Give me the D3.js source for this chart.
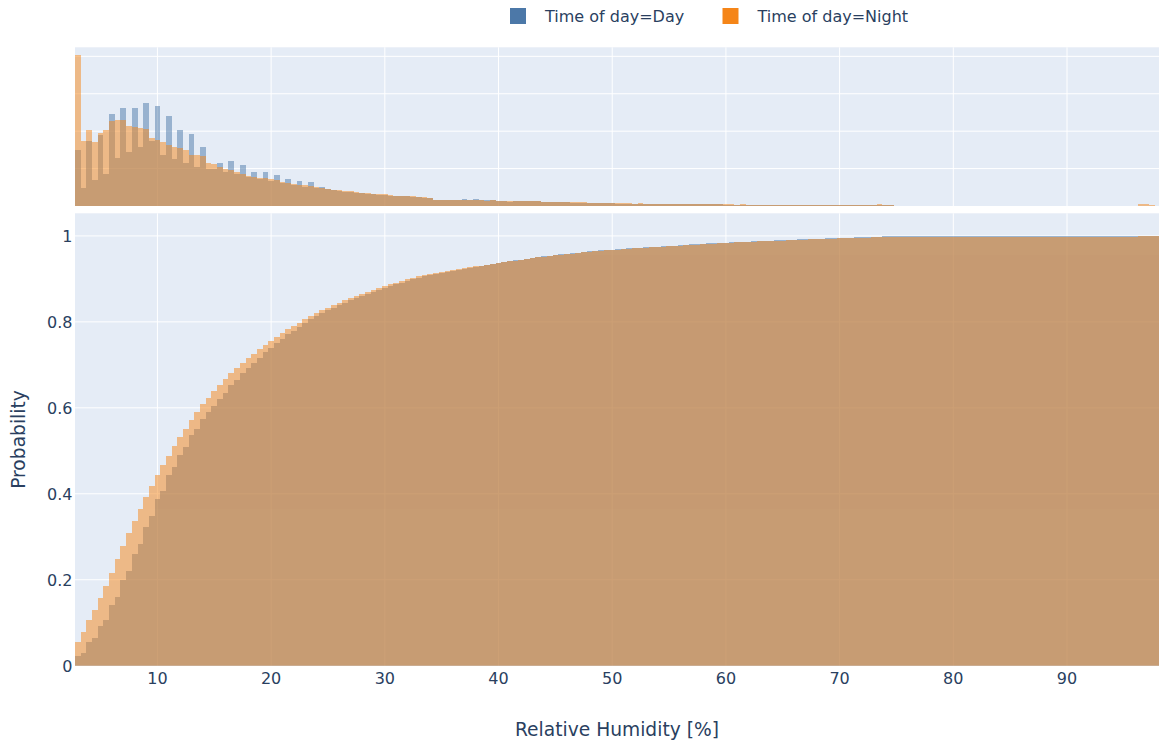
<!DOCTYPE html>
<html>
<head>
<meta charset="utf-8">
<script src="https://cdn.jsdelivr.net/npm/d3@7"></script>
<style>
  body { margin: 0; background: #ffffff; }
  svg { display: block; }
  text { font-family: "DejaVu Sans", Verdana, sans-serif; fill: #2a3f5f; }
</style>
</head>
<body>
<svg id="chart" width="1159" height="745"></svg>
<script>
// Histogram bins: 0.5 % wide, first bin starts at 2.75 %
const binStart = 2.75;
const binWidth = 0.5;

// Observation counts per bin, daytime readings
const dayCounts = [
  150, 48, 175, 70, 190, 86, 246, 127, 263, 145, 261, 157, 275, 175, 267, 135, 240, 125, 203, 115,
  193, 105, 157, 100, 98, 115, 92, 119, 85, 110, 78, 90, 72, 91, 68, 82, 62, 72, 55, 68,
  52, 64, 47, 50,
  45, 42, 41, 38, 38, 35, 35, 33, 32, 30, 30, 28, 27, 27, 26, 25, 24, 22, 21,
  17, 16, 16, 15, 17, 18, 17, 18, 16, 15, 17, 13, 13, 12, 13, 14, 14, 14, 13, 12, 10,
  10, 10, 10, 9, 9, 9, 8, 8, 8, 7, 7, 6,
  6, 6, 6, 6, 6, 5,
  5, 5, 6, 6, 6, 6, 6, 5,
  5, 5, 5, 5, 4, 4,
  4, 4, 4, 4, 4, 4, 4, 3, 4, 4, 3, 4, 3, 4, 3, 3, 4, 3, 3, 3, 3, 3, 3, 3,
  4, 3, 3, 2, 1, 0,
  1, 0, 1, 1, 0, 1, 1,
  0, 0, 0, 0, 0, 0, 0, 0, 0, 0, 0, 0, 0, 0, 0, 0, 0, 0, 0, 0,
  0, 0, 0, 0, 0, 0, 0, 0, 0, 0, 0, 0, 0, 0, 0, 0, 0, 0
];

// Observation counts per bin, night-time readings
const nightCounts = [
  403, 175, 204, 171, 195, 203, 226, 230, 230, 215, 210, 208, 205, 181, 177, 172, 162, 159, 155, 150,
  137, 137, 134, 115, 112, 105, 100, 95, 90, 86, 80, 77, 75, 74, 72, 70, 65, 62, 58, 56,
  55, 54, 50, 48,
  46, 44, 42, 40, 39, 37, 36, 35, 33, 32, 31, 29, 28, 28, 27, 26, 25, 23, 22,
  17, 16, 16, 15, 15, 16, 15, 15, 15, 14, 15, 14, 14, 14, 13, 14, 13, 13, 13,
  12, 11, 11, 11, 11, 10, 10, 10, 9, 9, 8, 8, 7, 7,
  7, 7, 6, 7, 6, 6,
  6, 6, 6, 6, 5, 6, 5, 5,
  6, 6, 5, 5, 5, 5,
  4, 5, 4, 4, 4, 4, 4, 4, 4, 3, 4, 4, 4, 3, 4, 3, 4, 3, 3, 4, 3, 3, 3, 3,
  4, 5, 3, 2, 1, 0,
  0, 0, 0, 0, 0, 0, 0, 0, 0, 0, 0, 0, 0, 0, 0, 0, 0, 0, 0, 0,
  0, 0, 0, 0, 0, 0, 0, 0, 0, 0, 0, 0, 0, 0, 0, 0, 0, 0, 0, 0, 0,
  5, 6, 2, 0
];

const seriesNames = ["Time of day=Day", "Time of day=Night"];
const seriesColors = ["#4C78A8", "#F58518"];

const xTicks = [10, 20, 30, 40, 50, 60, 70, 80, 90];
const probTicks = [0, 0.2, 0.4, 0.6, 0.8, 1];
const probTickLabels = ["0", "0.2", "0.4", "0.6", "0.8", "1"];
const countTicks = [100, 200, 300, 400];

const xTitle = "Relative Humidity [%]";
const yTitle = "Probability";

// ---- layout ----
const plotLeft = 75, plotRight = 1160.8;
const topPanel = { top: 47.3, bottom: 206 };
const mainPanel = { top: 213.3, bottom: 665.7 };
const bg = "#E5ECF6";

const svg = d3.select("#chart");

const nBins = dayCounts.length;
const binEnd = binStart + nBins * binWidth;

const x = d3.scaleLinear().domain([binStart, binEnd]).range([plotLeft, plotRight]);

const maxCount = d3.max([...dayCounts, ...nightCounts]);
const yTop = d3.scaleLinear().domain([0, maxCount * 1.0526]).range([topPanel.bottom, topPanel.top]);
const yMain = d3.scaleLinear().domain([0, 1.0526]).range([mainPanel.bottom, mainPanel.top]);

// cumulative probability per bin
function cumulative(counts) {
  const total = d3.sum(counts);
  let run = 0;
  return counts.map(c => (run += c) / total);
}

const allSeries = [
  { name: seriesNames[0], color: seriesColors[0], counts: dayCounts, cum: cumulative(dayCounts) },
  { name: seriesNames[1], color: seriesColors[1], counts: nightCounts, cum: cumulative(nightCounts) }
];

// ---- panel backgrounds ----
[topPanel, mainPanel].forEach(p => {
  svg.append("rect")
    .attr("x", plotLeft).attr("y", p.top)
    .attr("width", plotRight - plotLeft).attr("height", p.bottom - p.top)
    .attr("fill", bg);
});

// ---- gridlines ----
function vGrid(p) {
  svg.append("g").selectAll("line").data(xTicks).join("line")
    .attr("x1", d => x(d)).attr("x2", d => x(d))
    .attr("y1", p.top).attr("y2", p.bottom)
    .attr("stroke", "#ffffff").attr("stroke-width", 1);
}
vGrid(topPanel);
vGrid(mainPanel);

svg.append("g").selectAll("line").data(countTicks).join("line")
  .attr("x1", plotLeft).attr("x2", plotRight)
  .attr("y1", d => yTop(d)).attr("y2", d => yTop(d))
  .attr("stroke", "#ffffff").attr("stroke-width", 1);

svg.append("g").selectAll("line").data(probTicks.filter(d => d > 0)).join("line")
  .attr("x1", plotLeft).attr("x2", plotRight)
  .attr("y1", d => yMain(d)).attr("y2", d => yMain(d))
  .attr("stroke", "#ffffff").attr("stroke-width", 1);

// ---- bars ----
svg.append("clipPath").attr("id", "clipTop").append("rect")
  .attr("x", plotLeft).attr("y", topPanel.top).attr("width", plotRight - plotLeft).attr("height", topPanel.bottom - topPanel.top);
svg.append("clipPath").attr("id", "clipMain").append("rect")
  .attr("x", plotLeft).attr("y", mainPanel.top).attr("width", plotRight - plotLeft).attr("height", mainPanel.bottom - mainPanel.top);

allSeries.forEach(s => {
  // marginal count histogram
  svg.append("g")
    .attr("clip-path", "url(#clipTop)")
    .attr("opacity", 0.5)
    .selectAll("rect").data(s.counts).join("rect")
    .attr("shape-rendering", "crispEdges")
    .attr("x", (d, i) => x(binStart + i * binWidth))
    .attr("width", (d, i) => x(binStart + (i + 1) * binWidth) - x(binStart + i * binWidth))
    .attr("y", d => yTop(d))
    .attr("height", d => yTop(0) - yTop(d))
    .attr("fill", s.color);

  // cumulative probability histogram
  svg.append("g")
    .attr("clip-path", "url(#clipMain)")
    .attr("opacity", 0.5)
    .selectAll("rect").data(s.cum).join("rect")
    .attr("shape-rendering", "crispEdges")
    .attr("x", (d, i) => x(binStart + i * binWidth))
    .attr("width", (d, i) => x(binStart + (i + 1) * binWidth) - x(binStart + i * binWidth))
    .attr("y", d => yMain(d))
    .attr("height", d => yMain(0) - yMain(d))
    .attr("fill", s.color);
});

// ---- axis labels ----
svg.append("g").selectAll("text").data(xTicks).join("text")
  .attr("x", d => x(d)).attr("y", 683.5)
  .attr("text-anchor", "middle")
  .attr("font-size", 16)
  .text(d => d);

svg.append("g").selectAll("text").data(probTicks).join("text")
  .attr("x", 72.5).attr("y", d => yMain(d) + 6)
  .attr("text-anchor", "end")
  .attr("font-size", 16)
  .text((d, i) => probTickLabels[i]);

svg.append("text")
  .attr("x", (plotLeft + 1159) / 2).attr("y", 736)
  .attr("text-anchor", "middle")
  .attr("font-size", 18.67)
  .text(xTitle);

svg.append("text")
  .attr("transform", `translate(25,${(mainPanel.top + mainPanel.bottom) / 2}) rotate(-90)`)
  .attr("text-anchor", "middle")
  .attr("font-size", 18.67)
  .text(yTitle);

// ---- legend ----
const legendX = [510, 722.5];
const legend = svg.append("g").selectAll("g").data(allSeries).join("g")
  .attr("transform", (d, i) => `translate(${legendX[i]},8)`);
legend.append("rect")
  .attr("width", 16).attr("height", 16)
  .attr("fill", d => d.color);
legend.append("text")
  .attr("x", 35).attr("y", 14)
  .attr("font-size", 16)
  .text(d => d.name);
</script>
</body>
</html>
